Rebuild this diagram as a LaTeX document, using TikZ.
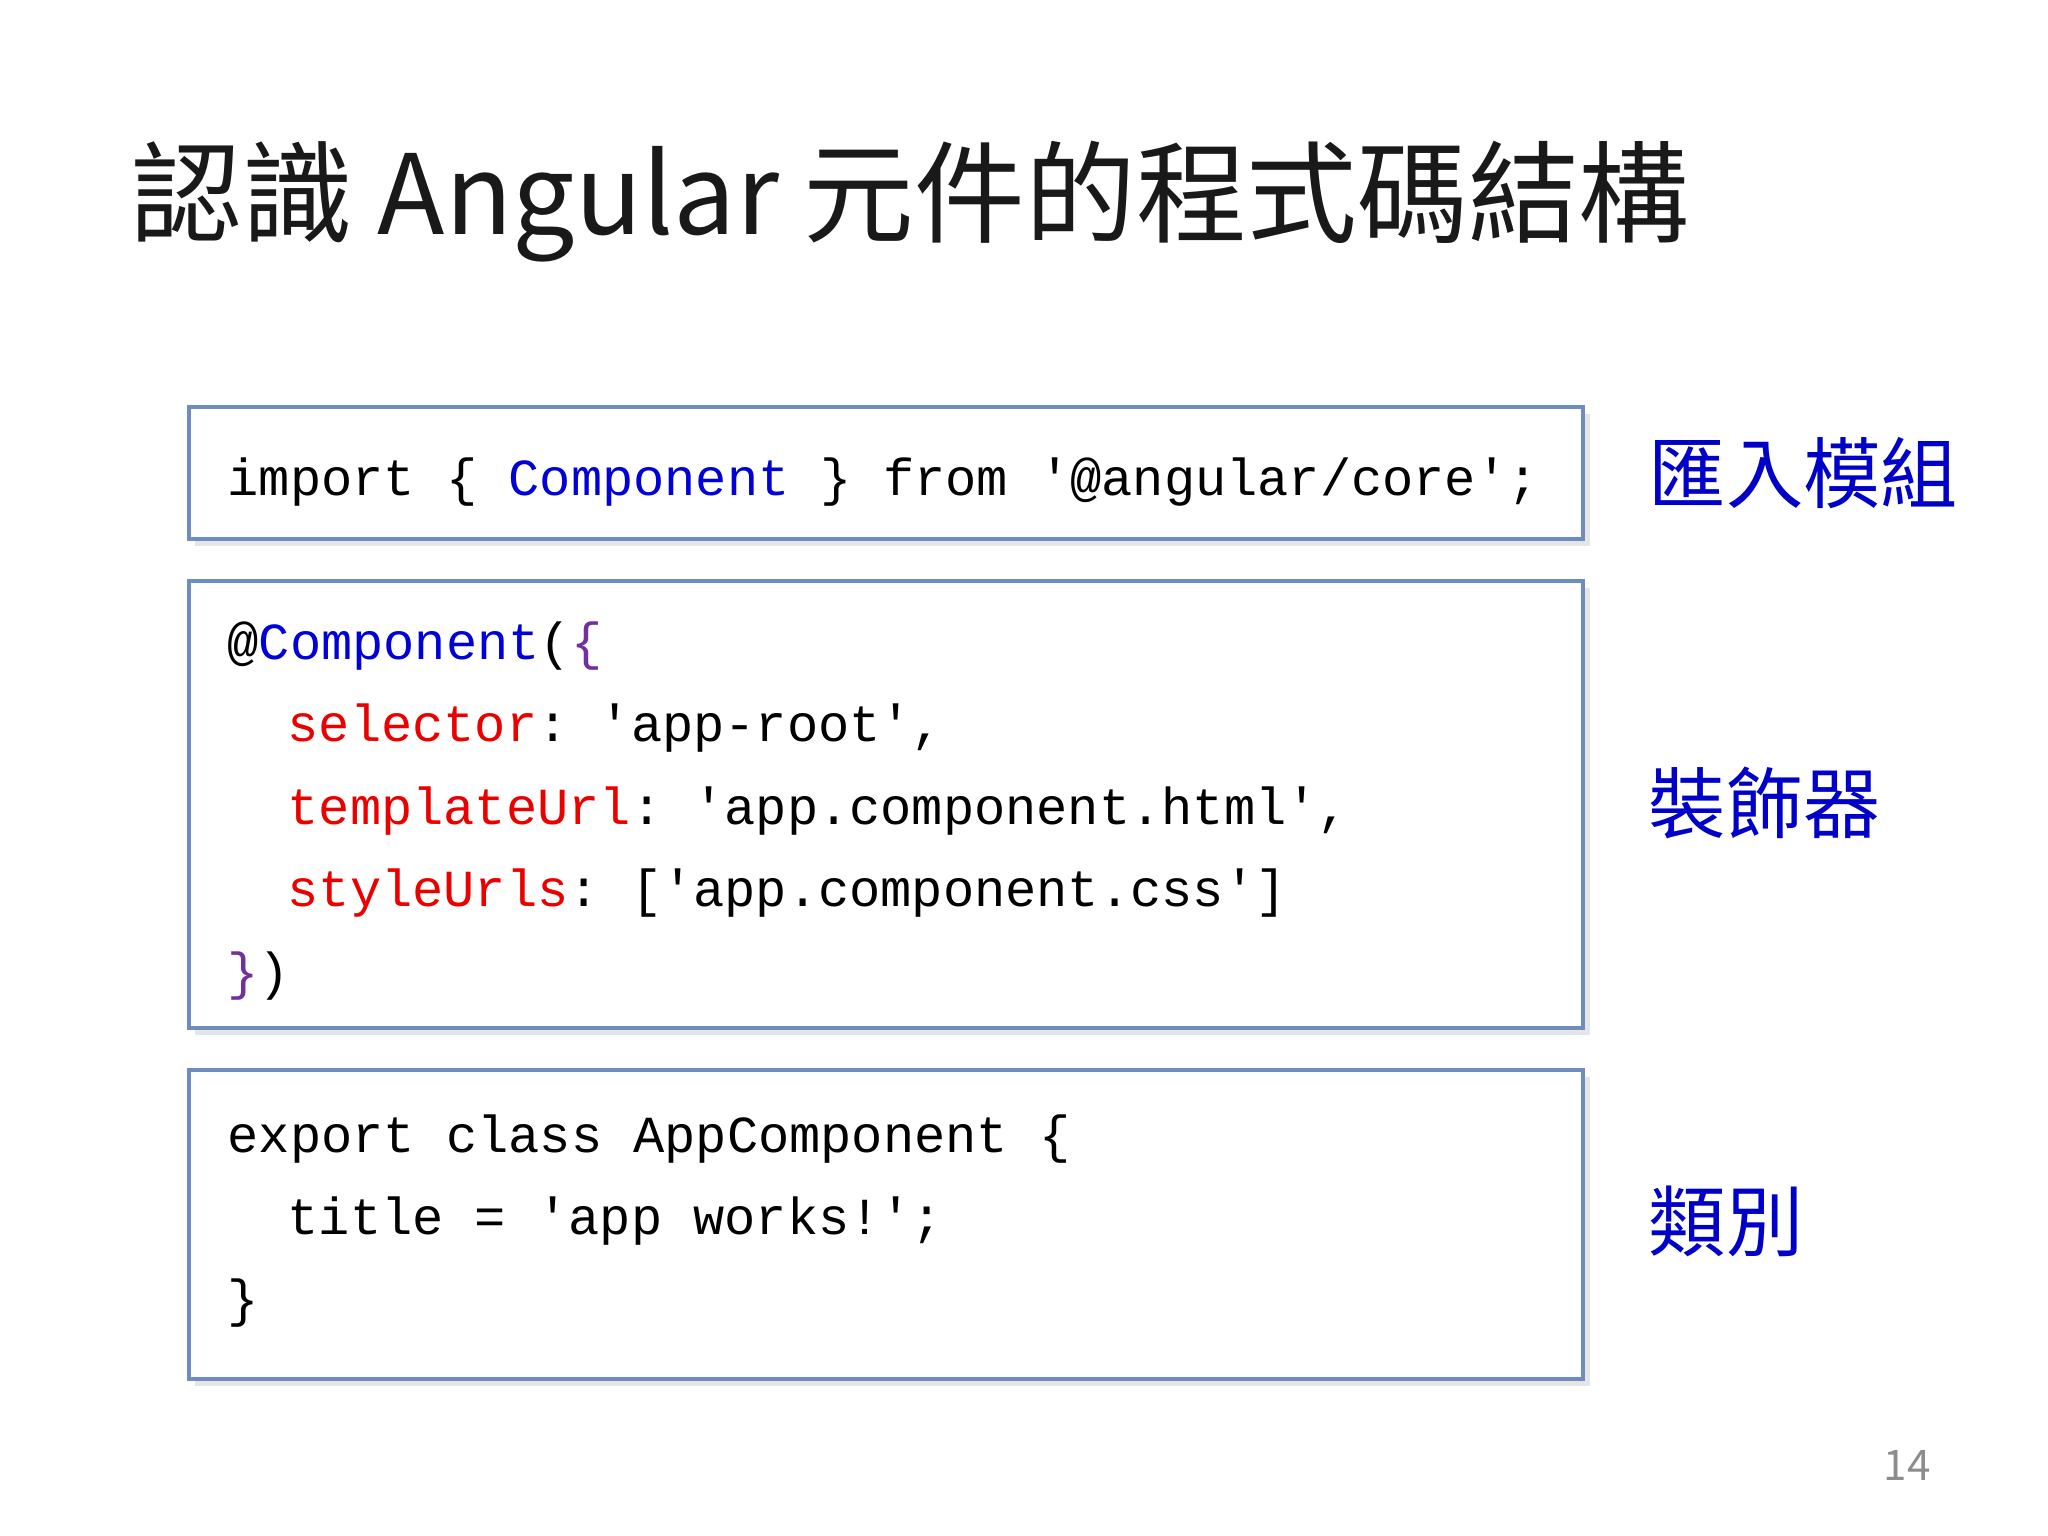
\documentclass[tikz,border=0pt]{standalone}
\usepackage{fontspec}
\setmainfont{Noto Sans CJK TC}
\setmonofont{Liberation Mono}
\newfontfamily\cjk{Noto Sans CJK TC}
\definecolor{kwblue}{RGB}{0,0,215}
\definecolor{keyred}{RGB}{235,0,0}
\definecolor{brpurple}{RGB}{112,48,160}
\definecolor{boxline}{RGB}{110,140,190}
\definecolor{lblblue}{RGB}{0,0,200}
\tikzset{
  codebox/.style={draw=boxline, line width=1pt, fill=white},
  codeline/.style={anchor=base west, inner sep=0pt, font=\ttfamily\fontsize{14.8}{16}\selectfont},
  sidelabel/.style={anchor=west, inner sep=0pt, text=lblblue, font=\cjk\fontsize{22}{24}\selectfont}
}
\begin{document}
\begin{tikzpicture}
\useasboundingbox (0,0) rectangle (20.48,-15.36);
% Title
\node[anchor=base west, inner sep=0pt, text=black!90, font=\cjk\fontsize{31.5}{36}\selectfont] (title) at (1.31,-2.35) {認識 Angular 元件的程式碼結構};

% Boxes with soft shadow
\foreach \name/\top/\bot in {imp/4.07/5.39, dec/5.81/10.28, cls/10.70/13.79} {
  \fill[black!10] (1.95,-\top-0.07) rectangle (15.90,-\bot-0.07);
  \draw[codebox] (1.89,-\top) rectangle (15.83,-\bot);
}

% Import block
\node[codeline] (l1) at (2.27,-4.96) {import \{ \textcolor{kwblue}{Component} \} from '@angular/core';};

% Decorator block
\node[codeline] (d1) at (2.27,-6.60) {@\textcolor{kwblue}{Component}(\textcolor{brpurple}{\{}};
\node[codeline] (d2) at (2.87,-7.42) {\textcolor{keyred}{selector}: 'app-root',};
\node[codeline] (d3) at (2.87,-8.24) {\textcolor{keyred}{templateUrl}: 'app.component.html',};
\node[codeline] (d4) at (2.87,-9.06) {\textcolor{keyred}{styleUrls}: ['app.component.css']};
\node[codeline] (d5) at (2.27,-9.89) {\textcolor{brpurple}{\}})};

% Class block
\node[codeline] (c1) at (2.27,-11.52) {export class AppComponent \{};
\node[codeline] (c2) at (2.87,-12.34) {title = 'app works!';};
\node[codeline] (c3) at (2.27,-13.16) {\}};

% Side labels
\node[sidelabel] (limp) at (16.48,-4.73) {匯入模組};
\node[sidelabel] (ldec) at (16.48,-8.03) {裝飾器};
\node[sidelabel] (lcls) at (16.48,-12.21) {類別};

% Page number
\node[text=black!45, font=\fontsize{12}{14}\selectfont] (page) at (19.07,-14.65) {14};
\end{tikzpicture}
\end{document}
